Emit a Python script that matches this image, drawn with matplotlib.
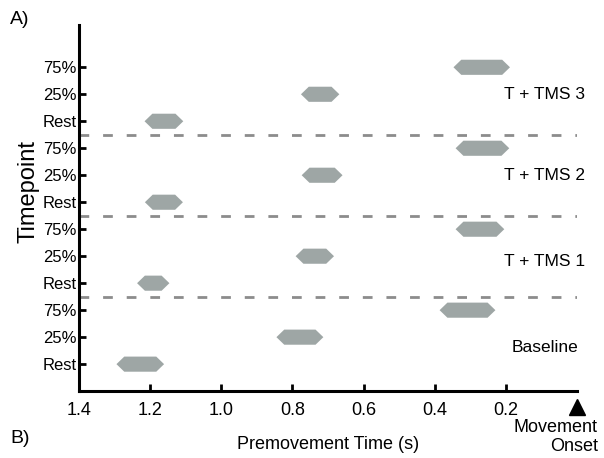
import matplotlib.pyplot as plt

plt.rcParams['font.family'] = ['Liberation Sans', 'DejaVu Sans']

# rows from bottom to top
row_labels = ['Rest', '25%', '75%'] * 4
groups = ['Baseline', 'T + TMS 1', 'T + TMS 2', 'T + TMS 3']
group_label_y = [0.6, 3.8, 7.0, 10.0]

# premovement time windows (s), early edge / late edge, one per row
win_early = [1.295, 0.845, 0.386,
             1.237, 0.791, 0.341,
             1.215, 0.774, 0.341,
             1.216, 0.776, 0.347]
win_late = [1.161, 0.713, 0.229,
            1.146, 0.683, 0.204,
            1.108, 0.659, 0.190,
            1.107, 0.668, 0.188]

xticks = [1.4, 1.2, 1.0, 0.8, 0.6, 0.4, 0.2]

fig = plt.figure(figsize=(6.04, 4.58), dpi=100)
ax = fig.add_axes([0.131, 0.146, 0.824, 0.799])

h = 0.28
tip = 0.022
for i, (a, b) in enumerate(zip(win_early, win_late)):
    xs = [a, a - tip, b + tip, b, b + tip, a - tip]
    ys = [i, i + h, i + h, i, i - h, i - h]
    ax.fill(xs, ys, color='#9ea6a5', lw=0)

for yy in [2.5, 5.5, 8.5]:
    ax.axhline(yy, color='#8c8c8c', lw=2, dashes=(3.5, 5))

for g, gy in zip(groups, group_label_y):
    ax.text(0.09, gy, g, ha='center', va='center', fontsize=12.5)

ax.set_xlim(1.4, 0)
ax.set_ylim(-1, 12.56)
ax.set_yticks(range(len(row_labels)))
ax.set_yticklabels(row_labels, fontsize=12)
ax.set_xticks(xticks)
ax.set_xticklabels([f'{t:.1f}' for t in xticks], fontsize=13)
ax.tick_params(direction='in', length=5, width=2, pad=2)
ax.tick_params(axis='x', pad=8)
for s in ['top', 'right']:
    ax.spines[s].set_visible(False)
for s in ['left', 'bottom']:
    ax.spines[s].set_linewidth(2.2)

ax.set_xlabel('Premovement Time (s)', fontsize=13, labelpad=12)
ax.set_ylabel('Timepoint', fontsize=17, va='center')
ax.yaxis.set_label_coords(-0.102, 0.546)

# movement onset marker
ax.plot([0], [-0.044], marker='^', color='black', markersize=12,
        transform=ax.get_xaxis_transform(), clip_on=False)
fig.text(0.99, 0.085, 'Movement\nOnset', ha='right', va='top',
         multialignment='right', fontsize=13, linespacing=1.15)

fig.text(0.017, 0.958, 'A)', fontsize=14, va='center')
fig.text(0.017, 0.042, 'B)', fontsize=14, va='center')

fig.savefig('out.png', dpi=100)
